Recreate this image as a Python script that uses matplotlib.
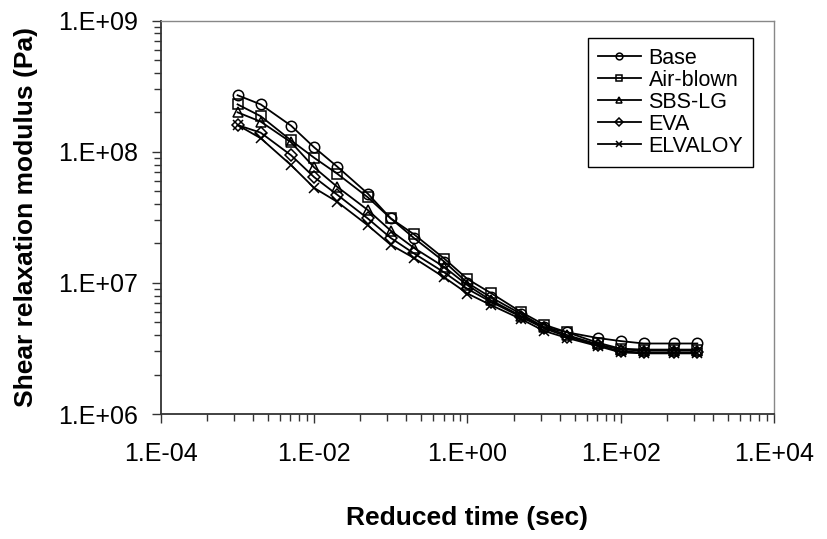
import matplotlib
matplotlib.use("Agg")
import matplotlib.pyplot as plt
import matplotlib.ticker as mticker
import numpy as np

plt.rcParams['font.family'] = ['Liberation Sans', 'DejaVu Sans']

# reduced time (sec)
time_s = [1e-3, 2e-3, 5e-3, 1e-2, 2e-2, 5e-2, 1e-1, 2e-1, 5e-1, 1, 2, 5,
          10, 20, 50, 100, 200, 500, 1000]

# shear relaxation modulus (Pa)
base = [2.7e8, 2.3e8, 1.58e8, 1.08e8, 7.7e7, 4.8e7, 3.1e7, 2.2e7, 1.45e7,
        1.0e7, 7.8e6, 5.8e6, 4.6e6, 4.2e6, 3.8e6, 3.6e6, 3.45e6, 3.45e6, 3.45e6]
air_blown = [2.3e8, 1.87e8, 1.22e8, 9.0e7, 6.8e7, 4.5e7, 3.1e7, 2.35e7, 1.53e7,
             1.07e7, 8.4e6, 6.0e6, 4.8e6, 4.2e6, 3.5e6, 3.15e6, 3.1e6, 3.1e6, 3.1e6]
sbs_lg = [2.0e8, 1.7e8, 1.18e8, 7.6e7, 5.4e7, 3.6e7, 2.5e7, 1.85e7, 1.32e7,
          9.6e6, 7.4e6, 5.6e6, 4.6e6, 4.0e6, 3.4e6, 3.1e6, 3.05e6, 3.05e6, 3.05e6]
eva = [1.6e8, 1.4e8, 9.4e7, 6.4e7, 4.7e7, 3.1e7, 2.2e7, 1.68e7, 1.2e7,
       9.0e6, 7.2e6, 5.5e6, 4.5e6, 3.9e6, 3.35e6, 3.0e6, 2.95e6, 2.95e6, 2.95e6]
elvaloy = [1.6e8, 1.27e8, 7.9e7, 5.3e7, 4.15e7, 2.75e7, 1.95e7, 1.55e7, 1.1e7,
           8.3e6, 6.8e6, 5.3e6, 4.3e6, 3.8e6, 3.3e6, 2.95e6, 2.9e6, 2.9e6, 2.9e6]

series = [('Base', base, 'o'),
          ('Air-blown', air_blown, 's'),
          ('SBS-LG', sbs_lg, '^'),
          ('EVA', eva, 'D'),
          ('ELVALOY', elvaloy, 'x')]

fig = plt.figure(figsize=(8.28, 5.39), dpi=100)
ax = fig.add_axes([0.1944, 0.2319, 0.7403, 0.7297])

for name, vals, mk in series:
    ms = 6.5 if mk == 'D' else 7.5
    ax.plot(time_s, vals, color='black', lw=1.3, marker=mk, ms=ms,
            mfc='none', mec='black', mew=1.1, label=name)

ax.set_xscale('log')
ax.set_yscale('log')
ax.set_xlim(1e-4, 1e4)
ax.set_ylim(1e6, 1e9)

# x axis: major every two decades, minor ticks like an Excel base-100 log axis
ax.xaxis.set_major_locator(mticker.FixedLocator([1e-4, 1e-2, 1e0, 1e2, 1e4]))
xminor = [k ** 2 * 10.0 ** e for e in (-4, -2, 0, 2) for k in range(2, 10)]
ax.xaxis.set_minor_locator(mticker.FixedLocator(xminor))
ax.yaxis.set_major_locator(mticker.LogLocator(base=10, numticks=10))
ax.yaxis.set_minor_locator(mticker.LogLocator(base=10, subs=np.arange(2, 10), numticks=10))

fmt = mticker.FuncFormatter(lambda v, p: "1.E%+03d" % int(round(np.log10(v))))
ax.xaxis.set_major_formatter(fmt)
ax.yaxis.set_major_formatter(fmt)
ax.xaxis.set_minor_formatter(mticker.NullFormatter())
ax.yaxis.set_minor_formatter(mticker.NullFormatter())

ax.tick_params(which='major', direction='out', length=6.7, width=1.0, color='#333333',
               labelsize=18, labelcolor='black')
ax.tick_params(which='minor', direction='out', length=4.8, width=1.0, color='#333333')
ax.tick_params(axis='x', which='major', pad=13.5)
ax.tick_params(axis='y', which='major', pad=10)

for s in ('left', 'bottom'):
    ax.spines[s].set_color('#333333')
    ax.spines[s].set_linewidth(1.3)
for s in ('top', 'right'):
    ax.spines[s].set_color('#888888')
    ax.spines[s].set_linewidth(1.0)

ax.set_xlabel('Reduced time (sec)', fontsize=19, fontweight='bold')
ax.set_ylabel('Shear relaxation modulus (Pa)', fontsize=19, fontweight='bold')
ax.xaxis.set_label_coords(0.5, -0.235)
ax.yaxis.set_label_coords(-0.2, 0.5)

leg = ax.legend(loc='upper left', bbox_to_anchor=(0.697, 0.956), borderaxespad=0,
                fontsize=15.5, frameon=True, fancybox=False, edgecolor='black',
                framealpha=1, markerscale=0.65, handlelength=2.0,
                handletextpad=0.35, labelspacing=0.05, borderpad=0.45)
leg.get_frame().set_linewidth(1.0)

fig.savefig('out.png', dpi=100)
